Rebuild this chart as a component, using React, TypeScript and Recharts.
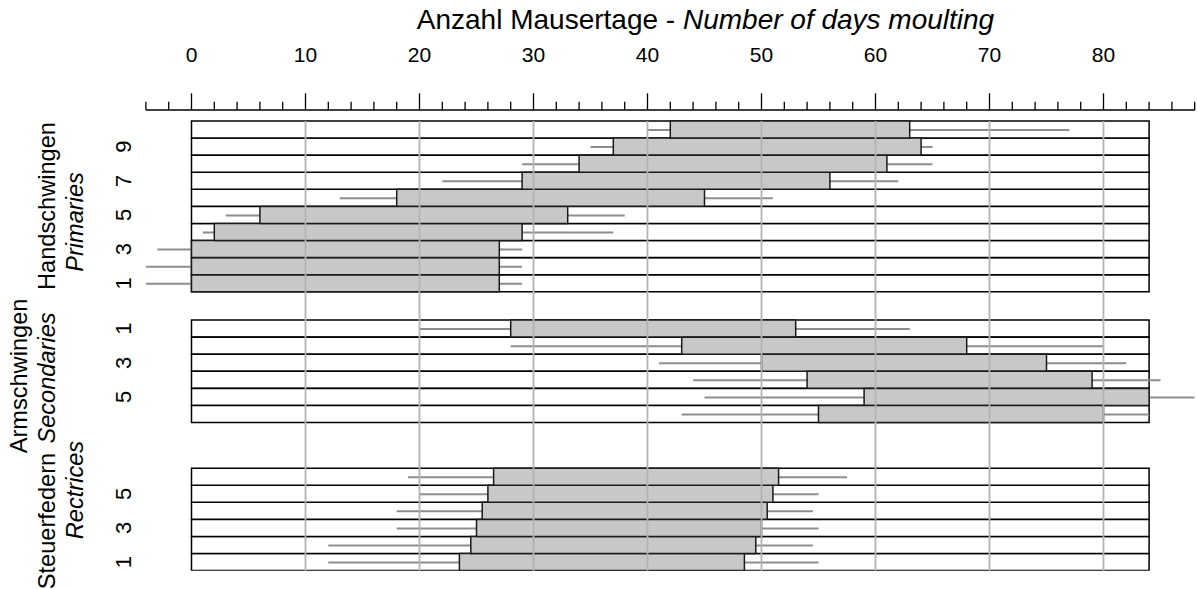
import { ComposedChart, Bar, XAxis, YAxis, ReferenceLine } from 'recharts'

// Handschwingen / primaries, feather 1..10 (days)
const primaryFeathers = [1, 2, 3, 4, 5, 6, 7, 8, 9, 10]
const primaryStart = [0, 0, 0, 2, 6, 18, 29, 34, 37, 42]
const primaryEnd = [27, 27, 27, 29, 33, 45, 56, 61, 64, 63]
const primaryMin = [-4, -4, -3, 1, 3, 13, 22, 29, 35, 40]
const primaryMax = [29, 29, 29, 37, 38, 51, 62, 65, 65, 77]

// Armschwingen / secondaries, feather 1..6
const secondaryFeathers = [1, 2, 3, 4, 5, 6]
const secondaryStart = [28, 43, 50, 54, 59, 55]
const secondaryEnd = [53, 68, 75, 79, 84, 80]
const secondaryMin = [20, 28, 41, 44, 45, 43]
const secondaryMax = [63, 80, 82, 85, 88, 84]

// Steuerfedern / rectrices, feather 1..6
const rectrixFeathers = [1, 2, 3, 4, 5, 6]
const rectrixStart = [23.5, 24.5, 25, 25.5, 26, 26.5]
const rectrixEnd = [48.5, 49.5, 50, 50.5, 51, 51.5]
const rectrixMin = [12, 12, 18, 18, 20, 19]
const rectrixMax = [55, 54.5, 55, 54.5, 55, 57.5]

const majorTicks = [0, 10, 20, 30, 40, 50, 60, 70, 80]
const allTicks = [
  -4, -2, 0, 2, 4, 6, 8, 10, 12, 14, 16, 18, 20, 22, 24, 26, 28, 30, 32, 34, 36, 38, 40, 42, 44,
  46, 48, 50, 52, 54, 56, 58, 60, 62, 64, 66, 68, 70, 72, 74, 76, 78, 80, 82, 84, 86, 88,
]
const gridLines = [10, 20, 30, 40, 50, 60, 70, 80]
const labelledFeathers = [1, 3, 5, 7, 9]

// layout (row units, one feather = 1, counted downwards)
const X_DOMAIN: [number, number] = [-4, 88]
const PANEL_END = 84
const Y_DOMAIN: [number, number] = [-0.644, 26.32]
const panelTop = { p: 0, s: 11.65, r: 20.32 }
const GRID_BOTTOM = panelTop.r + rectrixFeathers.length
const NUMBER_X = 131 // baseline of the rotated feather numbers

const FONT = "'Liberation Sans', Arial, Helvetica, sans-serif"

type Row = { feather: number; y: number; start: number; end: number; min: number; max: number }

const rows: Row[] = [
  ...primaryFeathers.map((f, i) => ({
    feather: f,
    y: panelTop.p + primaryFeathers.length - f + 0.5,
    start: primaryStart[i],
    end: primaryEnd[i],
    min: primaryMin[i],
    max: primaryMax[i],
  })),
  ...secondaryFeathers.map((f, i) => ({
    feather: f,
    y: panelTop.s + f - 0.5,
    start: secondaryStart[i],
    end: secondaryEnd[i],
    min: secondaryMin[i],
    max: secondaryMax[i],
  })),
  ...rectrixFeathers.map((f, i) => ({
    feather: f,
    y: panelTop.r + rectrixFeathers.length - f + 0.5,
    start: rectrixStart[i],
    end: rectrixEnd[i],
    min: rectrixMin[i],
    max: rectrixMax[i],
  })),
]

const yTicks = rows.filter((r) => labelledFeathers.includes(r.feather)).map((r) => r.y)

// top axis: long ticks + labels every 10, short ticks every 2
function DayTick(props: any) {
  const { x, y, payload } = props
  const major = majorTicks.includes(payload.value)
  return (
    <g>
      <line x1={x} x2={x} y1={y} y2={y - (major ? 16.7 : 8.3)} stroke="#000" strokeWidth={1.3} />
      {major && (
        <text x={x} y={y - 48.3} textAnchor="middle" fontSize={21} fontFamily={FONT} fill="#000">
          {payload.value}
        </text>
      )}
    </g>
  )
}

function FeatherTick(props: any) {
  const { y, payload } = props
  const row = rows.find((r) => Math.abs(r.y - payload.value) < 1e-6)
  return (
    <text
      x={NUMBER_X}
      y={y}
      transform={`rotate(-90 ${NUMBER_X} ${y})`}
      textAnchor="middle"
      fontSize={22}
      fontFamily={FONT}
      fill="#000"
    >
      {row ? row.feather : ''}
    </text>
  )
}

function SideLabel({ x, y, text, italic }: { x: number; y: number; text: string; italic?: boolean }) {
  return (
    <text
      x={x}
      y={y}
      transform={`rotate(-90 ${x} ${y})`}
      textAnchor="middle"
      fontSize={23.6}
      fontStyle={italic ? 'italic' : 'normal'}
      fontFamily={FONT}
      fill="#000"
    >
      {text}
    </text>
  )
}

export default function App() {
  return (
    <div style={{ position: 'absolute', left: 0, top: 0, width: 1197, height: 589, background: '#fff' }}>
      <ComposedChart
        width={1197}
        height={589}
        layout="vertical"
        data={rows}
        margin={{ top: 40, right: 2.3, bottom: 18.3, left: 135.9 }}
      >
        <XAxis
          type="number"
          orientation="top"
          domain={X_DOMAIN}
          allowDataOverflow
          ticks={allTicks}
          interval={0}
          height={70}
          tickSize={0}
          tickMargin={0}
          tickLine={false}
          axisLine={{ stroke: '#000', strokeWidth: 1.3 }}
          tick={<DayTick />}
        />
        <YAxis
          yAxisId="bg"
          dataKey="y"
          type="number"
          domain={Y_DOMAIN}
          allowDataOverflow
          width={10}
          ticks={yTicks}
          interval={0}
          tickSize={0}
          axisLine={false}
          tickLine={false}
          tick={<FeatherTick />}
        />
        <YAxis yAxisId="wh" dataKey="y" type="number" domain={Y_DOMAIN} allowDataOverflow hide />
        <YAxis yAxisId="bar" dataKey="y" type="number" domain={Y_DOMAIN} allowDataOverflow hide />

        <Bar
          yAxisId="bg"
          dataKey={() => [0, PANEL_END]}
          fill="#ffffff"
          stroke="#000"
          strokeWidth={1.5}
          barSize={17}
          isAnimationActive={false}
        />
        <Bar
          yAxisId="wh"
          dataKey={(d: Row) => [d.min, d.max]}
          fill="#8e8e8e"
          barSize={2}
          isAnimationActive={false}
        />
        <Bar
          yAxisId="bar"
          dataKey={(d: Row) => [d.start, d.end]}
          fill="#c8c9c7"
          stroke="#1a1a1a"
          strokeWidth={1.5}
          barSize={17}
          isAnimationActive={false}
        />

        {gridLines.map((v) => (
          <ReferenceLine
            key={v}
            yAxisId="bg"
            segment={[
              { x: v, y: panelTop.p },
              { x: v, y: GRID_BOTTOM },
            ]}
            stroke="#b3b3b3"
            strokeWidth={1.8}
            ifOverflow="visible"
          />
        ))}
      </ComposedChart>

      <svg
        width={1197}
        height={589}
        style={{ position: 'absolute', left: 0, top: 0, pointerEvents: 'none' }}
      >
        <text x={705.5} y={29} textAnchor="middle" fontSize={28} fontFamily={FONT} fill="#000">
          Anzahl Mausertage - <tspan fontStyle="italic">Number of days moulting</tspan>
        </text>
        <SideLabel x={55} y={206} text="Handschwingen" />
        <SideLabel x={83} y={222} text="Primaries" italic />
        <SideLabel x={27} y={376} text="Armschwingen" />
        <SideLabel x={55} y={378} text="Secondaries" italic />
        <SideLabel x={55} y={521} text="Steuerfedern" />
        <SideLabel x={83} y={490} text="Rectrices" italic />
      </svg>
    </div>
  )
}
